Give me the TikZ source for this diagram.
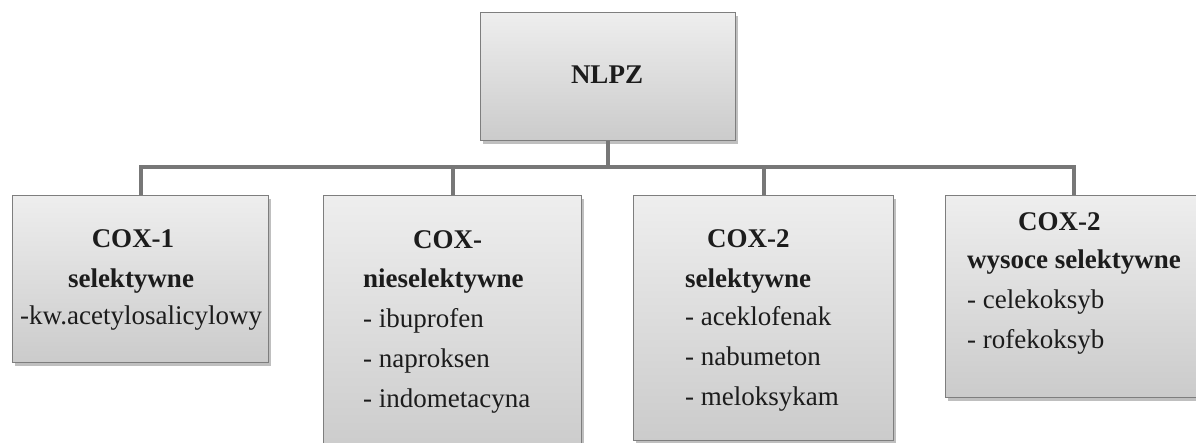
\documentclass[tikz,border=0pt]{standalone}
\usepackage{fontspec}
\setmainfont{Liberation Serif}
\usetikzlibrary{shadows}
\definecolor{boxtop}{HTML}{EEEEEE}
\definecolor{boxbot}{HTML}{CBCBCB}
\definecolor{boxedge}{HTML}{7E7E7E}
\definecolor{connc}{HTML}{777777}
\definecolor{txt}{HTML}{1C1C1C}
\tikzset{
  box/.style={rectangle, draw=boxedge, line width=1.2pt, top color=boxtop, bottom color=boxbot,
    anchor=north west, inner sep=0pt,
    drop shadow={shadow xshift=2pt, shadow yshift=-3pt, opacity=0.25, fill=black}},
  conn/.style={draw=connc, line width=3.8pt},
  ttl/.style={font=\fontsize{27}{39}\selectfont\bfseries, text=txt, inner sep=0pt},
  itm/.style={font=\fontsize{27}{39}\selectfont, text=txt, inner sep=0pt, anchor=base west},
}
\begin{document}
\begin{tikzpicture}[x=1pt,y=-1pt]
\useasboundingbox (0,0) rectangle (1196,442);
% boxes
\node[box, minimum width=255pt, minimum height=128pt] (nlpz) at (480,12) {};
\node[box, minimum width=256pt, minimum height=167pt] (b1) at (12,195) {};
\node[box, minimum width=258pt, minimum height=260pt] (b2) at (323,195) {};
\node[box, minimum width=260pt, minimum height=245pt] (b3) at (633,195) {};
\node[box, minimum width=256pt, minimum height=202pt] (b4) at (945,195) {};
% connectors
\coordinate (bus) at (0,167);
\draw[conn] (nlpz.south) -- (nlpz.south |- bus);
\draw[conn] (b1.north) |- (bus -| b4.north) -- (b4.north);
\draw[conn] (b2.north) -- (b2.north |- bus);
\draw[conn] (b3.north) -- (b3.north |- bus);
% texts
\node[ttl, anchor=base] (tn) at (607,83) {NLPZ};
\node[ttl, anchor=base] (t1a) at (133,247) {COX-1};
\node[ttl, anchor=base] (t1b) at (131,287) {selektywne};
\node[itm] (t1c) at (20,324) {-kw.acetylosalicylowy};
\node[ttl, anchor=base west] (t2a) at (413,248) {COX-};
\node[ttl, anchor=base west] (t2b) at (363,287) {nieselektywne};
\node[itm] (t2c) at (363,327) {- ibuprofen};
\node[itm] (t2d) at (363,367) {- naproksen};
\node[itm] (t2e) at (363,407) {- indometacyna};
\node[ttl, anchor=base west] (t3a) at (707,247) {COX-2};
\node[ttl, anchor=base west] (t3b) at (685,287) {selektywne};
\node[itm] (t3c) at (685,325) {- aceklofenak};
\node[itm] (t3d) at (685,365) {- nabumeton};
\node[itm] (t3e) at (685,405) {- meloksykam};
\node[ttl, anchor=base west] (t4a) at (1018,230) {COX-2};
\node[ttl, anchor=base west] (t4b) at (967,268) {wysoce selektywne};
\node[itm] (t4c) at (967,308) {- celekoksyb};
\node[itm] (t4d) at (967,348) {- rofekoksyb};
\end{tikzpicture}
\end{document}
